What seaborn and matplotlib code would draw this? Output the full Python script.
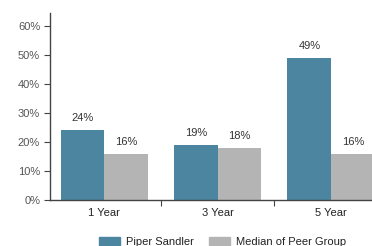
import pandas as pd
import matplotlib.pyplot as plt
import seaborn as sns

# values (percent)
periods = ["1 Year", "3 Year", "5 Year"]
piper = [24, 19, 49]
peer = [16, 18, 16]
series_names = ["Piper Sandler", "Median of Peer Group"]
colors = ["#4b859f", "#b4b4b4"]

df = pd.DataFrame({
    "Period": periods * 2,
    "Series": [series_names[0]] * 3 + [series_names[1]] * 3,
    "Return": piper + peer,
})

sns.set_style("white")
plt.rcParams['font.family'] = ['Liberation Sans', 'DejaVu Sans']

fig = plt.figure(figsize=(3.72, 2.46), dpi=100)
ax = fig.add_axes([0.134, 0.187, 0.866, 0.76])

sns.barplot(data=df, x="Period", y="Return", hue="Series", palette=colors,
            width=0.77, gap=0, saturation=1, linewidth=0, ax=ax, legend=False)

for container in ax.containers:
    ax.bar_label(container, fmt="%d%%", padding=5, fontsize=8, color="#333333")

ax.set_xlim(-0.48, 2.36)
ax.set_ylim(0, 64.5)
ax.set_yticks(range(0, 61, 10))
ax.set_yticklabels([f"{v}%" for v in range(0, 61, 10)], fontsize=8, color="#555555")
ax.set_xticks([0, 1, 2])
ax.set_xticklabels(periods, fontsize=8, color="#222222")
ax.set_xticks([0.5, 1.5], minor=True)
ax.tick_params(axis="x", which="major", length=0, pad=6)
ax.tick_params(axis="x", which="minor", bottom=True, length=4, width=0.8,
               color="#444444", direction="out")
ax.tick_params(axis="y", left=True, length=4, width=0.8, color="#444444",
               direction="out", pad=3)
ax.set_xlabel("")
ax.set_ylabel("")

for side in ["top", "right"]:
    ax.spines[side].set_visible(False)
for side in ["left", "bottom"]:
    ax.spines[side].set_color("#444444")
    ax.spines[side].set_linewidth(1)

handles = [plt.Rectangle((0, 0), 1, 1, color=c) for c in colors]
fig.legend(handles, series_names, loc="center", bbox_to_anchor=(0.598, 0.015),
           ncol=2, frameon=False, fontsize=8, handlelength=1.9, handleheight=0.8,
           handletextpad=0.5, columnspacing=1.4, labelcolor="#222222")

fig.savefig("out.png", dpi=100)
